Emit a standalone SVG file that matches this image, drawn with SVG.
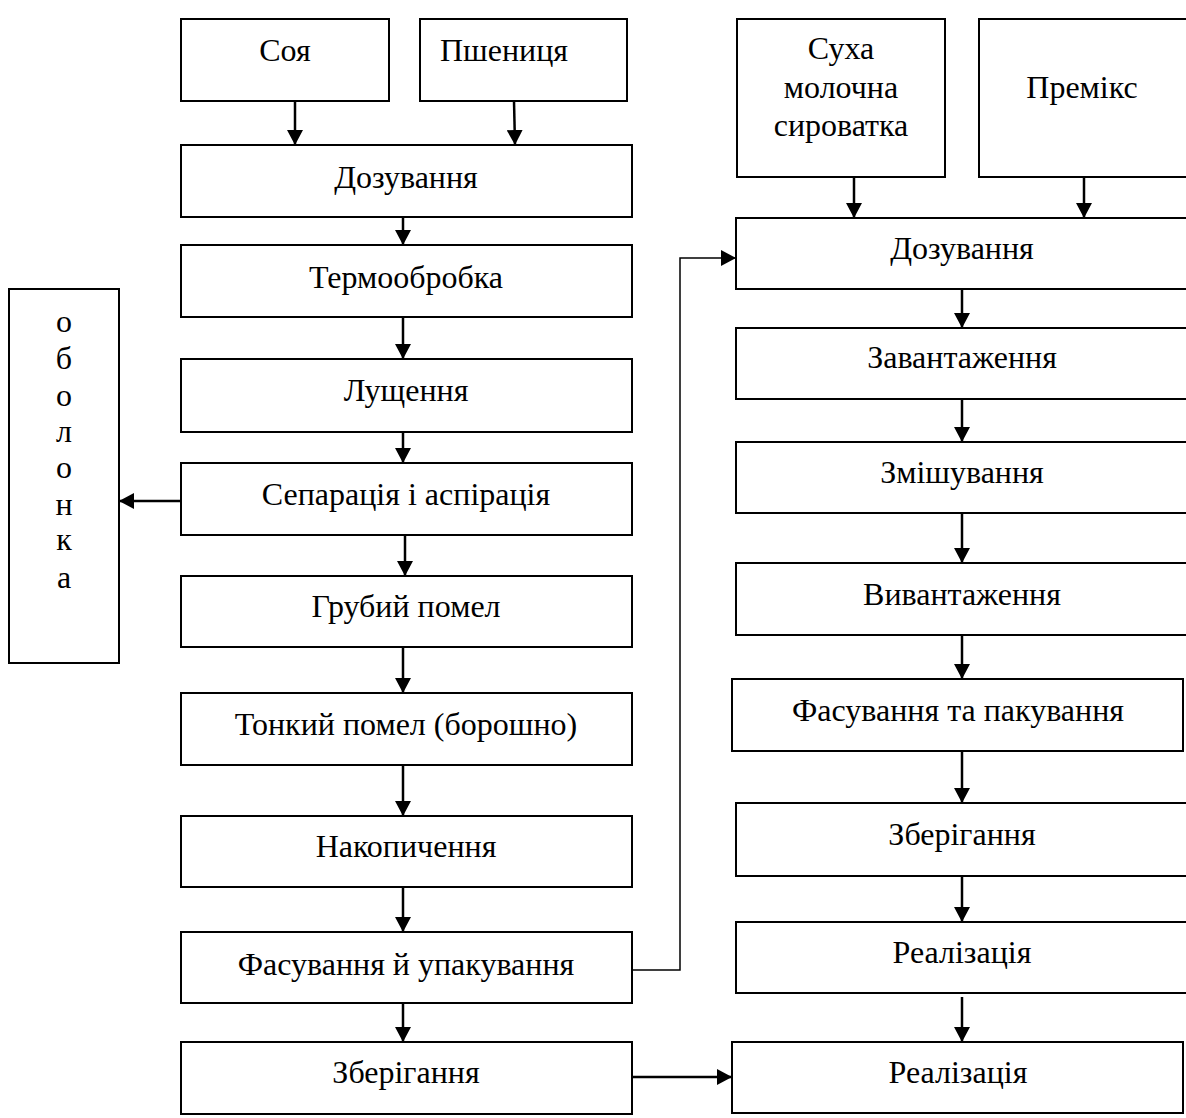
<svg xmlns="http://www.w3.org/2000/svg" width="1186" height="1118" viewBox="0 0 1186 1118">
<style>
.box{fill:#fff;stroke:#000;stroke-width:2}
.t{font-family:"Liberation Serif","Times New Roman",serif;font-size:32px;fill:#000;text-anchor:middle}
.c{fill:none;stroke:#000;stroke-width:2.5}
.thin{fill:none;stroke:#000;stroke-width:1.5}
</style>
<defs>
<marker id="ah" viewBox="0 0 15 16" refX="15" refY="8" markerWidth="15" markerHeight="16" markerUnits="userSpaceOnUse" orient="auto">
<path d="M0,0 L15,8 L0,16 Z" fill="#000"/>
</marker>
</defs>
<rect width="1186" height="1118" fill="#fff"/>
<g id="connectors">
<line class="c" x1="295" y1="101" x2="295" y2="145" marker-end="url(#ah)"/>
<line class="c" x1="514" y1="101" x2="515" y2="145" marker-end="url(#ah)"/>
<line class="c" x1="403" y1="217" x2="403" y2="245" marker-end="url(#ah)"/>
<line class="c" x1="403" y1="317" x2="403" y2="359" marker-end="url(#ah)"/>
<line class="c" x1="403" y1="432" x2="403" y2="463" marker-end="url(#ah)"/>
<line class="c" x1="181" y1="501" x2="119" y2="501" marker-end="url(#ah)"/>
<line class="c" x1="405" y1="535" x2="405" y2="576" marker-end="url(#ah)"/>
<line class="c" x1="403" y1="647" x2="403" y2="693" marker-end="url(#ah)"/>
<line class="c" x1="403" y1="765" x2="403" y2="816" marker-end="url(#ah)"/>
<line class="c" x1="403" y1="887" x2="403" y2="932" marker-end="url(#ah)"/>
<line class="c" x1="403" y1="1003" x2="403" y2="1042" marker-end="url(#ah)"/>
<polyline class="thin" points="632,970 680,970 680,258 736,258" marker-end="url(#ah)"/>
<line class="c" x1="632" y1="1077" x2="732" y2="1077" marker-end="url(#ah)"/>
<line class="c" x1="854" y1="177" x2="854" y2="218" marker-end="url(#ah)"/>
<line class="c" x1="1084" y1="177" x2="1084" y2="218" marker-end="url(#ah)"/>
<line class="c" x1="962" y1="289" x2="962" y2="328" marker-end="url(#ah)"/>
<line class="c" x1="962" y1="399" x2="962" y2="442" marker-end="url(#ah)"/>
<line class="c" x1="962" y1="513" x2="962" y2="563" marker-end="url(#ah)"/>
<line class="c" x1="962" y1="635" x2="962" y2="679" marker-end="url(#ah)"/>
<line class="c" x1="962" y1="751" x2="962" y2="803" marker-end="url(#ah)"/>
<line class="c" x1="962" y1="876" x2="962" y2="922" marker-end="url(#ah)"/>
<line class="c" x1="962" y1="997" x2="962" y2="1042" marker-end="url(#ah)"/>
</g>
<g id="n-soya"><rect class="box" x="181" y="19" width="208" height="82"/><text class="t" x="285" y="61">Соя</text></g>
<g id="n-pshenytsia"><rect class="box" x="420" y="19" width="207" height="82"/><text class="t" x="440" y="61" style="text-anchor:start">Пшениця</text></g>
<g id="n-dozuvannia1"><rect class="box" x="181" y="145" width="451" height="72"/><text class="t" x="406" y="188">Дозування</text></g>
<g id="n-termo"><rect class="box" x="181" y="245" width="451" height="72"/><text class="t" x="406" y="288">Термообробка</text></g>
<g id="n-lushchennia"><rect class="box" x="181" y="359" width="451" height="73"/><text class="t" x="406" y="401">Лущення</text></g>
<g id="n-separatsiia"><rect class="box" x="181" y="463" width="451" height="72"/><text class="t" x="406" y="505">Сепарація і аспірація</text></g>
<g id="n-hrubyi"><rect class="box" x="181" y="576" width="451" height="71"/><text class="t" x="406" y="617">Грубий помел</text></g>
<g id="n-tonkyi"><rect class="box" x="181" y="693" width="451" height="72"/><text class="t" x="406" y="735">Тонкий помел (борошно)</text></g>
<g id="n-nakopychennia"><rect class="box" x="181" y="816" width="451" height="71"/><text class="t" x="406" y="857">Накопичення</text></g>
<g id="n-fasuvannia1"><rect class="box" x="181" y="932" width="451" height="71"/><text class="t" x="406" y="975">Фасування й упакування</text></g>
<g id="n-zberihannia1"><rect class="box" x="181" y="1042" width="451" height="72"/><text class="t" x="406" y="1083">Зберігання</text></g>
<g id="n-obolonka"><rect class="box" x="9" y="289" width="110" height="374"/>
<text class="t" x="64"><tspan x="64" y="332">о</tspan><tspan x="64" y="369">б</tspan><tspan x="64" y="406">о</tspan><tspan x="64" y="442">л</tspan><tspan x="64" y="478">о</tspan><tspan x="64" y="515">н</tspan><tspan x="64" y="550">к</tspan><tspan x="64" y="588">а</tspan></text></g>
<g id="n-sukha"><rect class="box" x="737" y="19" width="208" height="158"/><text class="t"><tspan x="841" y="59">Суха</tspan><tspan x="841" y="98">молочна</tspan><tspan x="841" y="136">сироватка</tspan></text></g>
<g id="n-premiks"><rect class="box" x="979" y="19" width="210" height="158"/><text class="t" x="1082" y="98">Премікс</text></g>
<g id="n-dozuvannia2"><rect class="box" x="736" y="218" width="454" height="71"/><text class="t" x="962" y="259">Дозування</text></g>
<g id="n-zavantazhennia"><rect class="box" x="736" y="328" width="454" height="71"/><text class="t" x="962" y="368">Завантаження</text></g>
<g id="n-zmishuvannia"><rect class="box" x="736" y="442" width="454" height="71"/><text class="t" x="962" y="483">Змішування</text></g>
<g id="n-vyvantazhennia"><rect class="box" x="736" y="563" width="454" height="72"/><text class="t" x="962" y="605">Вивантаження</text></g>
<g id="n-fasuvannia2"><rect class="box" x="732" y="679" width="451" height="72"/><text class="t" x="958" y="721">Фасування та пакування</text></g>
<g id="n-zberihannia2"><rect class="box" x="736" y="803" width="454" height="73"/><text class="t" x="962" y="845">Зберігання</text></g>
<g id="n-realizatsiia1"><rect class="box" x="736" y="922" width="454" height="71"/><text class="t" x="962" y="963">Реалізація</text></g>
<g id="n-realizatsiia2"><rect class="box" x="732" y="1042" width="451" height="71"/><text class="t" x="958" y="1083">Реалізація</text></g>
</svg>
